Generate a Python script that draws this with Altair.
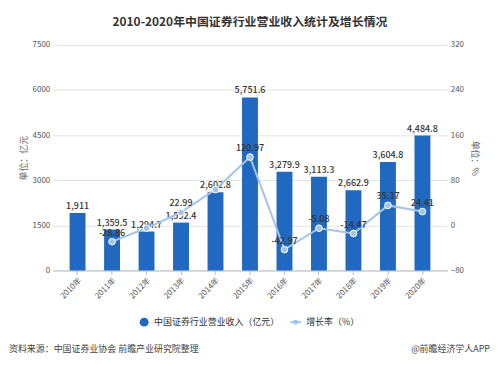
import altair as alt
import pandas as pd

years = ["2010年", "2011年", "2012年", "2013年", "2014年", "2015年", "2016年", "2017年", "2018年", "2019年", "2020年"]
revenue = [1911, 1359.5, 1294.7, 1592.4, 2602.8, 5751.6, 3279.9, 3113.3, 2662.9, 3604.8, 4484.8]
growth = [None, -28.86, -4.77, 22.99, 63.45, 120.97, -42.97, -5.08, -14.47, 35.37, 24.41]
growth_label = ["", "-28.86", "", "22.99", "", "120.97", "-42.97", "-5.08", "-14.47", "35.37", "24.41"]

title_text = "2010-2020年中国证券行业营业收入统计及增长情况"
left_title = "单位：亿元"
right_title = "单位：%"
legend_bar = "中国证券行业营业收入（亿元）"
legend_line = "增长率（%）"
source_text = "资料来源：中国证券业协会 前瞻产业研究院整理"
brand_text = "@前瞻经济学人APP"

FONT = "Noto Sans CJK SC"
BAR = "#2169c0"
LINE = "#a3c4e6"
W, H = 397, 227

df = pd.DataFrame({"year": years, "revenue": revenue, "growth": growth, "glabel": growth_label})

xenc = alt.X("year:N", sort=years, title=None,
             scale=alt.Scale(paddingInner=0.54, paddingOuter=0.49),
             axis=alt.Axis(labelAngle=-45, labelFontSize=8, labelColor="#555", domainColor="#bbb",
                           ticks=True, tickColor="#bbb", tickSize=4, labelPadding=2))

yleft = alt.Y("revenue:Q", title=left_title,
              scale=alt.Scale(domain=[0, 7500], nice=False),
              axis=alt.Axis(values=[0, 1500, 3000, 4500, 6000, 7500], format="d", labelFontSize=8, labelColor="#555",
                            titleFontSize=9, titleColor="#666", titleFontWeight="normal", titlePadding=4,
                            domain=False, ticks=False, gridColor="#e3e3e3", labelPadding=3))

bars = alt.Chart(df).mark_bar(color=BAR, width=16).encode(x=xenc, y=yleft)
bar_text = alt.Chart(df).mark_text(dy=-7, fontSize=9, color="#333", fontWeight=500, font=FONT).encode(
    x=alt.X("year:N", sort=years), y=alt.Y("revenue:Q"), text=alt.Text("revenue:Q", format=",.1~f"))
left_layer = alt.layer(bars, bar_text)

yright = alt.Y("growth:Q", title=right_title,
               scale=alt.Scale(domain=[-80, 320], nice=False),
               axis=alt.Axis(orient="right", values=[-80, 0, 80, 160, 240, 320], format="d", labelFontSize=8,
                             labelColor="#555", titleFontSize=9, titleColor="#666", titleFontWeight="normal",
                             titleAngle=90, titlePadding=6, domain=False, ticks=False, grid=False, labelPadding=3))

line = alt.Chart(df).mark_line(color=LINE, strokeWidth=2).encode(x=alt.X("year:N", sort=years), y=yright)
pts = alt.Chart(df).mark_point(filled=True, color=LINE, size=45, stroke="white", strokeWidth=1, opacity=1).encode(
    x=alt.X("year:N", sort=years), y=alt.Y("growth:Q"))
gtext = alt.Chart(df).mark_text(dy=-9, fontSize=9, color="#333", fontWeight=500, font=FONT).encode(
    x=alt.X("year:N", sort=years), y=alt.Y("growth:Q"), text="glabel:N")
right_layer = alt.layer(line, pts, gtext)

one = pd.DataFrame({"a": [0]})
leg_dot = alt.Chart(one).mark_point(filled=True, color=BAR, size=80, opacity=1).encode(
    x=alt.value(92), y=alt.value(279))
leg_t1 = alt.Chart(one).mark_text(text=legend_bar, align="left", baseline="middle", fontSize=9, color="#333", font=FONT).encode(
    x=alt.value(102), y=alt.value(279))
leg_line = alt.Chart(one).mark_rule(color=LINE, strokeWidth=2).encode(
    x=alt.value(239), x2=alt.value(250), y=alt.value(279))
leg_pt = alt.Chart(one).mark_point(filled=True, color=LINE, size=25, opacity=1).encode(
    x=alt.value(244.5), y=alt.value(279))
leg_t2 = alt.Chart(one).mark_text(text=legend_line, align="left", baseline="middle", fontSize=9, color="#333", font=FONT).encode(
    x=alt.value(255), y=alt.value(279))
src = alt.Chart(one).mark_text(text=source_text, align="left", baseline="middle", fontSize=9, color="#444", font=FONT).encode(
    x=alt.value(-44), y=alt.value(306))
brand = alt.Chart(one).mark_text(text=brand_text, align="right", baseline="middle", fontSize=9, color="#444", font=FONT).encode(
    x=alt.value(440), y=alt.value(306))

chart = alt.layer(
    alt.layer(left_layer, right_layer).resolve_scale(y="independent"),
    leg_dot, leg_t1, leg_line, leg_pt, leg_t2, src, brand,
).properties(
    width=W, height=H,
    title=alt.TitleParams(title_text, fontSize=12, fontWeight="bold", color="#333", font=FONT, anchor="middle", offset=12),
    autosize=alt.AutoSizeParams(type="none"),
    padding={"left": 45, "top": 36, "right": 44, "bottom": 90},
).configure(font=FONT).configure_view(stroke=None).configure_axis(labelFont=FONT, titleFont=FONT)

chart.save("out.html", embed_options={"renderer": "svg", "actions": False})
